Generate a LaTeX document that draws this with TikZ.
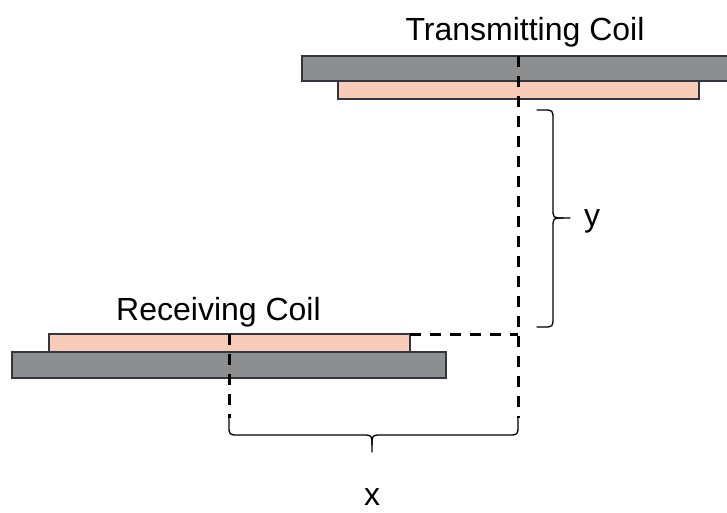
\documentclass[tikz,border=0pt]{standalone}
\usepackage{fontspec}
\setmainfont{Liberation Sans}
\definecolor{coilgray}{RGB}{141,142,144}
\definecolor{coilpink}{RGB}{249,204,186}
\definecolor{edgegray}{RGB}{50,55,62}
\begin{document}
\begin{tikzpicture}[x=1pt,y=-1pt,
  plate/.style={draw=edgegray,line width=1.6pt,fill=coilgray,inner sep=0pt,outer sep=0pt,rectangle},
  layer/.style={draw=edgegray,line width=1.6pt,fill=coilpink,inner sep=0pt,outer sep=0pt,rectangle},
  guide/.style={line width=3pt,dash pattern=on 11pt off 9pt},
  bracket/.style={line width=1.3pt,line cap=round,line join=round},
  lbl/.style={font=\fontsize{32}{36}\selectfont,inner sep=0pt,anchor=base}]
\useasboundingbox (0,0) rectangle (727,512);
\begin{scope}
\clip (0,0) rectangle (727,512);
% transmitting coil
\node[layer,minimum width=361pt,minimum height=17.5pt] (tpink) at (518.5,90) {};
\node[plate,minimum width=438pt,minimum height=25pt] (tgray) at (521,68.5) {};
% receiving coil
\node[plate,minimum width=434pt,minimum height=26pt] (rgray) at (229,365) {};
\node[layer,minimum width=361pt,minimum height=18pt] (rpink) at (229.5,343) {};
\end{scope}
% labels
\node[lbl] (tlabel) at (525,40) {Transmitting Coil};
\node[lbl] (rlabel) at (218.5,320) {Receiving Coil};
\node[lbl] (ylabel) at (592,226) {y};
\node[lbl] (xlabel) at (372,505) {x};
% dashed guides
\coordinate (ttop) at (518,56);
\coordinate (tbot) at (518,418);
\coordinate (rtop) at (229,334);
\coordinate (rbot) at (229,418);
\coordinate (corner) at (518,334);
\draw[guide] (ttop) -- (tbot);
\draw[guide] (rtop) -- (rbot);
\draw[guide] (rpink.north east) -- (corner);
% x brace
\coordinate (xtip) at (372,452);
\draw[bracket] (rbot) -- (229,425) .. controls (229,435) .. (239,435)
  -- (362,435) .. controls (372,435) .. (372,445) -- (xtip);
\draw[bracket] (tbot) -- (518,425) .. controls (518,435) .. (508,435)
  -- (382,435) .. controls (372,435) .. (372,445);
% y brace
\coordinate (ya) at (537,110);
\coordinate (yb) at (537,327);
\coordinate (ytip) at (570,218);
\draw[bracket] (ya) -- (543,110) .. controls (553,110) .. (553,120)
  -- (553,208) .. controls (553,218) .. (563,218) -- (ytip);
\draw[bracket] (yb) -- (543,327) .. controls (553,327) .. (553,317)
  -- (553,228) .. controls (553,218) .. (563,218);
\end{tikzpicture}
\end{document}
